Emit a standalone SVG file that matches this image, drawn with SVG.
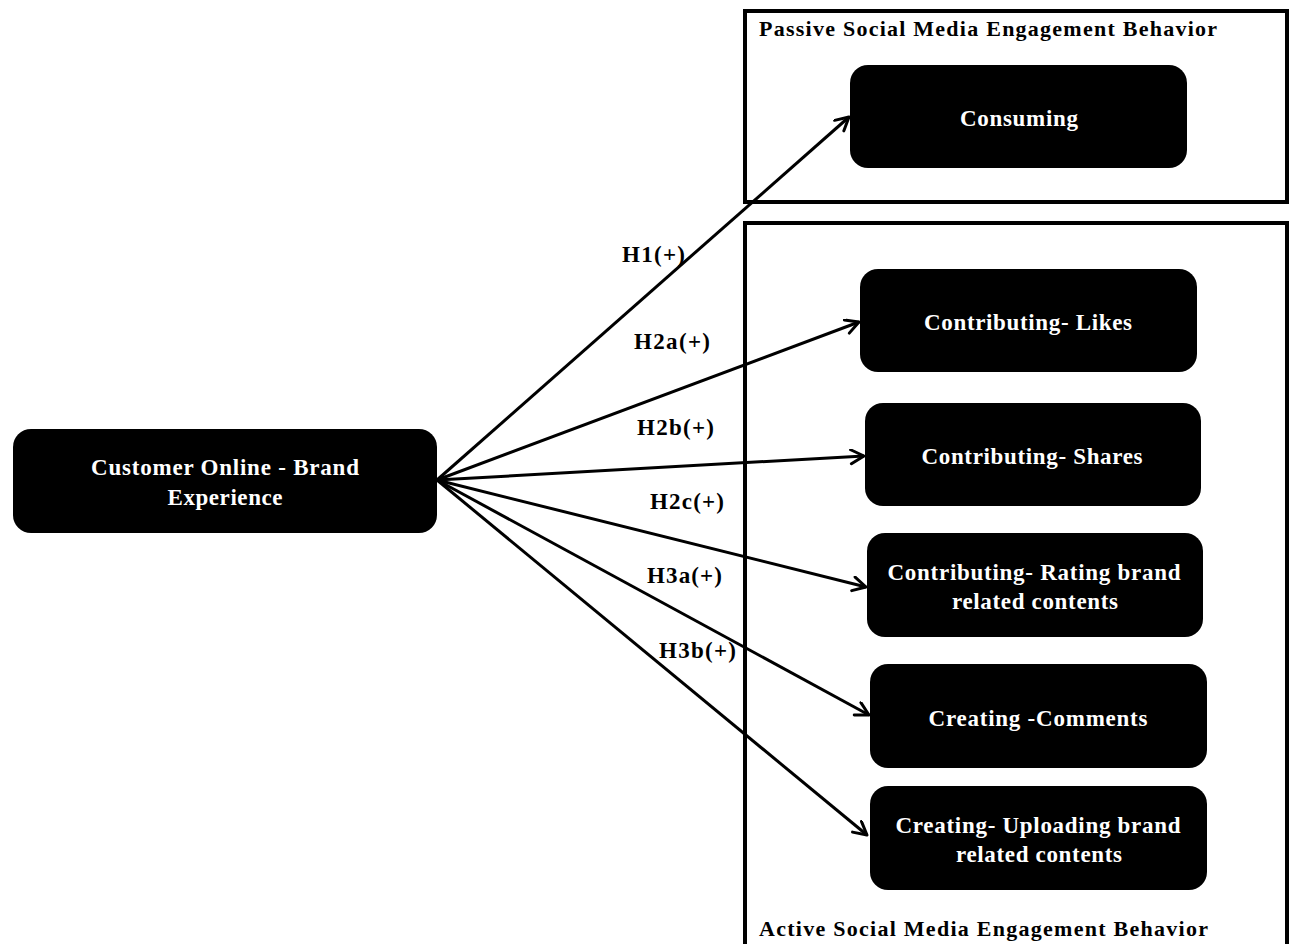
<svg xmlns="http://www.w3.org/2000/svg" width="1292" height="944" viewBox="0 0 1292 944">
  <style>
    .frame { fill: none; stroke: #000; stroke-width: 4; }
    .node rect { fill: #000; }
    .node text { fill: #fff; font-family: "Liberation Serif", "Times New Roman", serif; font-weight: bold; font-size: 23px; text-anchor: middle; }
    .title { fill: #000; font-family: "Liberation Serif", "Times New Roman", serif; font-weight: bold; font-size: 22px; }
    .edge { stroke: #000; stroke-width: 3; fill: none; marker-end: url(#arrow); }
    .lbl { fill: #000; font-family: "Liberation Serif", "Times New Roman", serif; font-weight: bold; font-size: 23px; }
  </style>
  <defs>
    <marker id="arrow" markerUnits="userSpaceOnUse" markerWidth="20" markerHeight="20" refX="15" refY="8" orient="auto">
      <path d="M2,1 L15,8 L2,15" fill="none" stroke="#000" stroke-width="3" stroke-linecap="round" stroke-linejoin="round"/>
    </marker>
  </defs>
  <rect width="1292" height="944" fill="#fff"/>

  <!-- grouping frames -->
  <g id="passive-frame">
    <rect class="frame" x="745" y="11" width="542" height="191"/>
    <text class="title" x="759" y="36" textLength="458" lengthAdjust="spacing">Passive Social Media Engagement Behavior</text>
  </g>
  <g id="active-frame">
    <rect class="frame" x="745" y="223" width="542" height="730"/>
    <text class="title" x="759" y="936" textLength="449" lengthAdjust="spacing">Active Social Media Engagement Behavior</text>
  </g>

  <!-- connectors -->
  <g id="connectors">
    <line class="edge" x1="437" y1="480" x2="849" y2="117"/>
    <line class="edge" x1="437" y1="480" x2="859" y2="322"/>
    <line class="edge" x1="437" y1="480" x2="864" y2="456"/>
    <line class="edge" x1="437" y1="480" x2="866" y2="587"/>
    <line class="edge" x1="437" y1="480" x2="869" y2="715"/>
    <line class="edge" x1="437" y1="480" x2="867" y2="835"/>
    <text class="lbl" x="622" y="262" textLength="63" lengthAdjust="spacing">H1(+)</text>
    <text class="lbl" x="634" y="349" textLength="76" lengthAdjust="spacing">H2a(+)</text>
    <text class="lbl" x="637" y="435" textLength="77" lengthAdjust="spacing">H2b(+)</text>
    <text class="lbl" x="650" y="509" textLength="74" lengthAdjust="spacing">H2c(+)</text>
    <text class="lbl" x="647" y="583" textLength="75" lengthAdjust="spacing">H3a(+)</text>
    <text class="lbl" x="659" y="658" textLength="77" lengthAdjust="spacing">H3b(+)</text>
  </g>

  <!-- nodes -->
  <g id="brand-experience" class="node">
    <rect x="13" y="429" width="424" height="104" rx="18"/>
    <text x="225" y="475" textLength="268" lengthAdjust="spacing">Customer Online - Brand</text>
    <text x="225" y="505" textLength="115" lengthAdjust="spacing">Experience</text>
  </g>
  <g id="consuming" class="node">
    <rect x="850" y="65" width="337" height="103" rx="18"/>
    <text x="1019" y="126" textLength="118" lengthAdjust="spacing">Consuming</text>
  </g>
  <g id="likes" class="node">
    <rect x="860" y="269" width="337" height="103" rx="18"/>
    <text x="1028" y="330" textLength="208" lengthAdjust="spacing">Contributing- Likes</text>
  </g>
  <g id="shares" class="node">
    <rect x="865" y="403" width="336" height="103" rx="18"/>
    <text x="1032" y="464" textLength="221" lengthAdjust="spacing">Contributing- Shares</text>
  </g>
  <g id="rating" class="node">
    <rect x="867" y="533" width="336" height="104" rx="18"/>
    <text x="1034" y="580" textLength="293" lengthAdjust="spacing">Contributing- Rating brand</text>
    <text x="1035" y="609" textLength="166" lengthAdjust="spacing">related contents</text>
  </g>
  <g id="comments" class="node">
    <rect x="870" y="664" width="337" height="104" rx="18"/>
    <text x="1038" y="726" textLength="219" lengthAdjust="spacing">Creating -Comments</text>
  </g>
  <g id="uploading" class="node">
    <rect x="870" y="786" width="337" height="104" rx="18"/>
    <text x="1038" y="833" textLength="285" lengthAdjust="spacing">Creating- Uploading brand</text>
    <text x="1039" y="862" textLength="166" lengthAdjust="spacing">related contents</text>
  </g>
</svg>
